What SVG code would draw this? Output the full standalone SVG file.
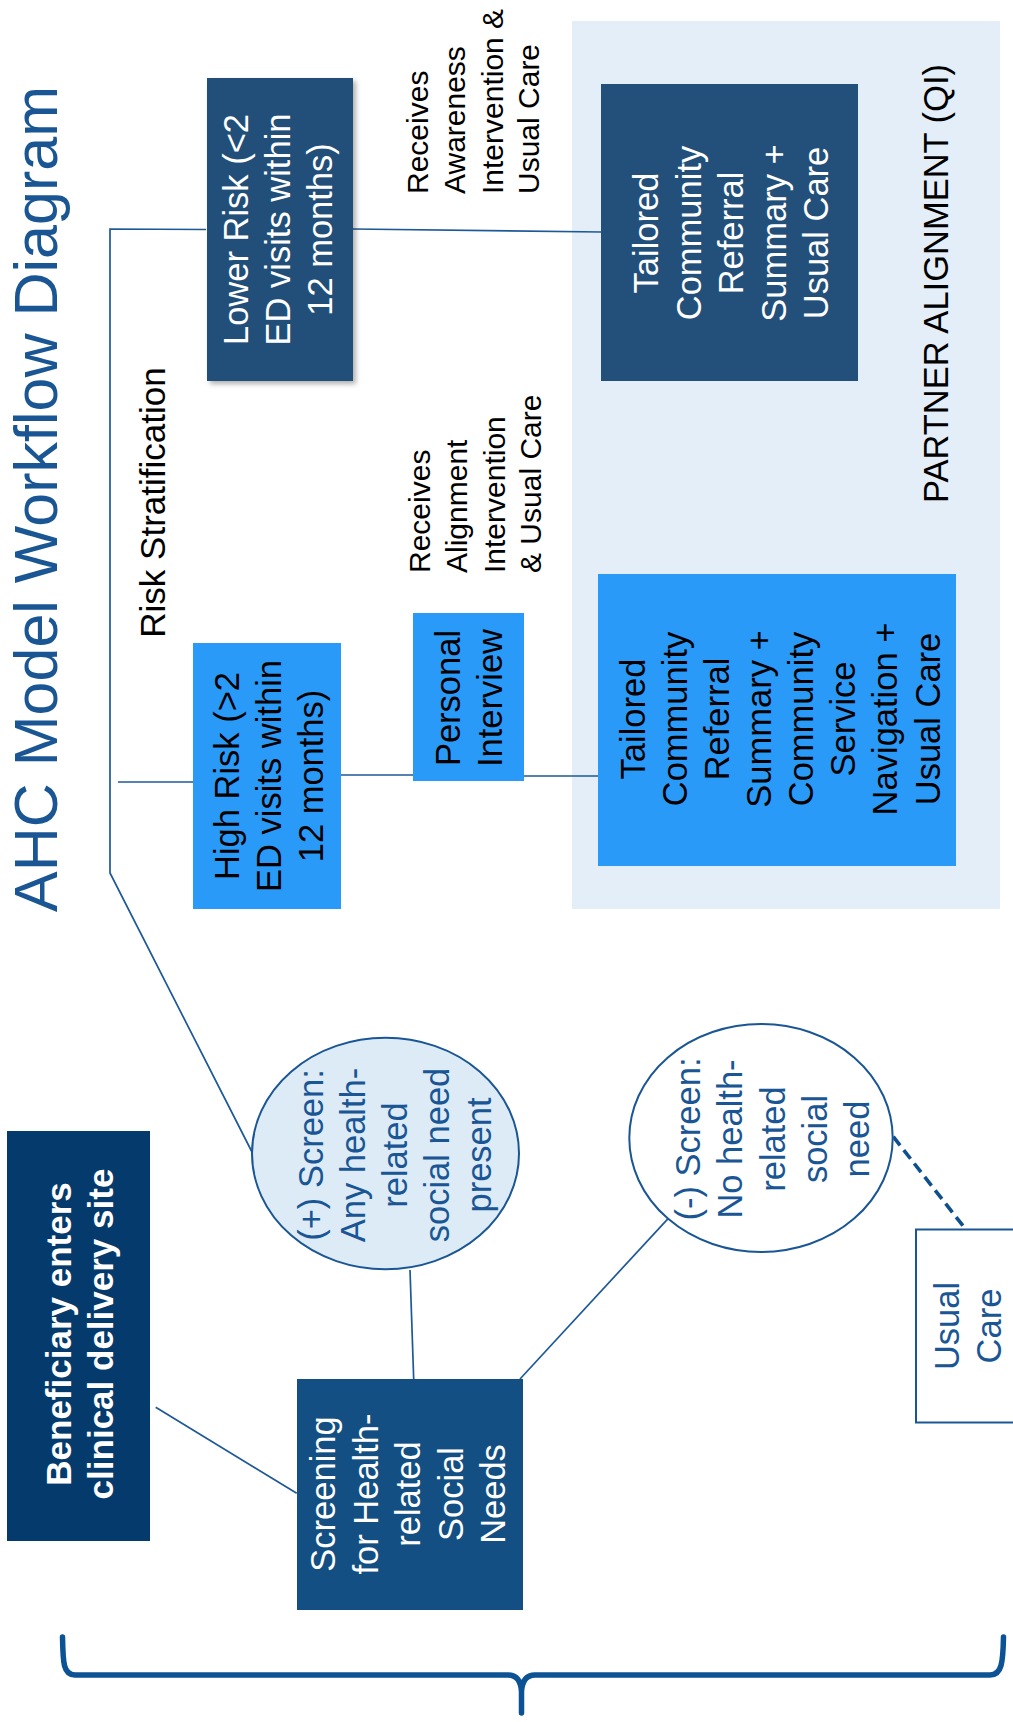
<svg xmlns="http://www.w3.org/2000/svg" width="1013" height="1722" viewBox="0 0 1013 1722">
<defs>
<style>
.t{font-family:"Liberation Sans",Arial,Helvetica,sans-serif;text-anchor:middle}
.s34{font-size:34.5px}
.s30{font-size:30px;text-anchor:start}
.w{fill:#ffffff}
.k{fill:#000000}
.bl{fill:#1A5694}
.conn line,.conn path{stroke:#1D5997;stroke-width:1.7;fill:none}
.dark{fill:#23507A}
.bright{fill:#2A9AF8}
</style>
<filter id="sh" x="-10%" y="-10%" width="130%" height="130%">
<feDropShadow dx="3" dy="3" stdDeviation="2.5" flood-color="#000" flood-opacity="0.3"/>
</filter>
</defs>
<rect width="1013" height="1722" fill="#ffffff"/>

<g id="partner-alignment">
<rect x="572" y="21" width="428" height="888" fill="#E4EEF8"/>
<text class="t k" transform="rotate(-90)" x="-283.5" y="948" font-size="34.5">PARTNER ALIGNMENT (QI)</text>
</g>

<g id="title">
<text class="t" transform="rotate(-90)" x="-499" y="57" font-size="61" fill="#1A5694">AHC Model Workflow Diagram</text>
</g>

<g id="risk-stratification-label">
<text class="t k" transform="rotate(-90)" x="-502.5" y="165" font-size="35">Risk Stratification</text>
</g>

<g id="connectors" class="conn">
<line x1="155.7" y1="1407.3" x2="296.7" y2="1493.3"/>
<line x1="413.7" y1="1379" x2="410" y2="1270"/>
<line x1="520" y1="1379" x2="668.3" y2="1218.3"/>
<line x1="893.3" y1="1136.7" x2="965.7" y2="1229.3" stroke-dasharray="11 6" style="stroke:#0E4F8E;stroke-width:3.6"/>
<path d="M252 1152 L110 873 L110 229 L206 229.5"/>
<line x1="118" y1="782" x2="193" y2="782"/>
<line x1="341" y1="775" x2="413" y2="775"/>
<line x1="524" y1="776" x2="607" y2="776"/>
<line x1="353" y1="229" x2="601" y2="232"/>
</g>

<g id="lower-risk">
<rect x="207" y="78" width="146" height="303" class="dark" filter="url(#sh)"/>
<text class="t w s34" transform="rotate(-90)"><tspan x="-229.5" y="248">Lower Risk (&lt;2</tspan><tspan x="-229.5" y="290">ED visits within</tspan><tspan x="-229.5" y="332">12 months)</tspan></text>
</g>

<g id="high-risk">
<rect x="193" y="643" width="148" height="266" class="bright"/>
<text class="t k s34" transform="rotate(-90)"><tspan x="-776" y="239">High Risk (&gt;2</tspan><tspan x="-776" y="281">ED visits within</tspan><tspan x="-776" y="323">12 months)</tspan></text>
</g>

<g id="personal-interview">
<rect x="413" y="613" width="111" height="168" class="bright"/>
<text class="t k s34" transform="rotate(-90)"><tspan x="-698" y="460">Personal</tspan><tspan x="-698" y="502">Interview</tspan></text>
</g>

<g id="label-awareness">
<text class="t k s30" transform="rotate(-90)"><tspan x="-194" y="428">Receives</tspan><tspan x="-194" y="465">Awareness</tspan><tspan x="-194" y="503">Intervention &amp;</tspan><tspan x="-194" y="539">Usual Care</tspan></text>
</g>

<g id="label-alignment">
<text class="t k s30" transform="rotate(-90)"><tspan x="-573" y="430">Receives</tspan><tspan x="-573" y="467">Alignment</tspan><tspan x="-573" y="505">Intervention</tspan><tspan x="-573" y="541">&amp; Usual Care</tspan></text>
</g>

<g id="tailored-lower">
<rect x="601" y="84" width="257" height="297" class="dark"/>
<text class="t w s34" transform="rotate(-90)"><tspan x="-233" y="658">Tailored</tspan><tspan x="-233" y="700.5">Community</tspan><tspan x="-233" y="743">Referral</tspan><tspan x="-233" y="785.5">Summary +</tspan><tspan x="-233" y="828">Usual Care</tspan></text>
</g>

<g id="tailored-high">
<rect x="598" y="574" width="358" height="292" class="bright"/>
<text class="t k s34" transform="rotate(-90)"><tspan x="-719" y="645">Tailored</tspan><tspan x="-719" y="687">Community</tspan><tspan x="-719" y="729">Referral</tspan><tspan x="-719" y="771">Summary +</tspan><tspan x="-719" y="813">Community</tspan><tspan x="-719" y="855">Service</tspan><tspan x="-719" y="897">Navigation +</tspan><tspan x="-719" y="940">Usual Care</tspan></text>
</g>

<g id="beneficiary">
<rect x="7" y="1131" width="143" height="410" fill="#053B6C"/>
<text class="t w" transform="rotate(-90)" font-size="35" font-weight="bold"><tspan x="-1334" y="71">Beneficiary enters</tspan><tspan x="-1334" y="113">clinical delivery site</tspan></text>
</g>

<g id="screening">
<rect x="297" y="1379" width="226" height="231" fill="#134F82"/>
<text class="t w s34" transform="rotate(-90)"><tspan x="-1494" y="335">Screening</tspan><tspan x="-1494" y="377.5">for Health-</tspan><tspan x="-1494" y="420">related</tspan><tspan x="-1494" y="462.5">Social</tspan><tspan x="-1494" y="505">Needs</tspan></text>
</g>

<g id="screen-positive">
<ellipse cx="385.5" cy="1153.5" rx="133.5" ry="115.7" fill="#DDEBF7" stroke="#1A5694" stroke-width="2"/>
<text class="t bl s34" transform="rotate(-90)"><tspan x="-1155" y="323">(+) Screen:</tspan><tspan x="-1155" y="365">Any health-</tspan><tspan x="-1155" y="407">related</tspan><tspan x="-1155" y="449">social need</tspan><tspan x="-1155" y="491">present</tspan></text>
</g>

<g id="screen-negative">
<ellipse cx="761" cy="1138" rx="131.7" ry="114" fill="#ffffff" stroke="#1A5694" stroke-width="2"/>
<text class="t bl s34" transform="rotate(-90)"><tspan x="-1139" y="700">(-) Screen:</tspan><tspan x="-1139" y="742">No health-</tspan><tspan x="-1139" y="784.5">related</tspan><tspan x="-1139" y="826.5">social</tspan><tspan x="-1139" y="868.5">need</tspan></text>
</g>

<g id="usual-care">
<rect x="916" y="1229.5" width="110" height="193" fill="#ffffff" stroke="#1A5694" stroke-width="2"/>
<text class="t bl s34" transform="rotate(-90)"><tspan x="-1326" y="959">Usual</tspan><tspan x="-1326" y="1001">Care</tspan></text>
</g>

<g id="bracket">
<path d="M62.5 1637 C63 1662 63 1675 75 1675 L508 1675 C517 1675 521 1681 521.5 1692 L521.5 1713 M521.5 1692 C522 1681 526 1675 535 1675 L990 1675 C1002 1675 1003 1662 1003.5 1637" fill="none" stroke="#0B5394" stroke-width="5.5" stroke-linecap="round" stroke-linejoin="round"/>
</g>
</svg>
